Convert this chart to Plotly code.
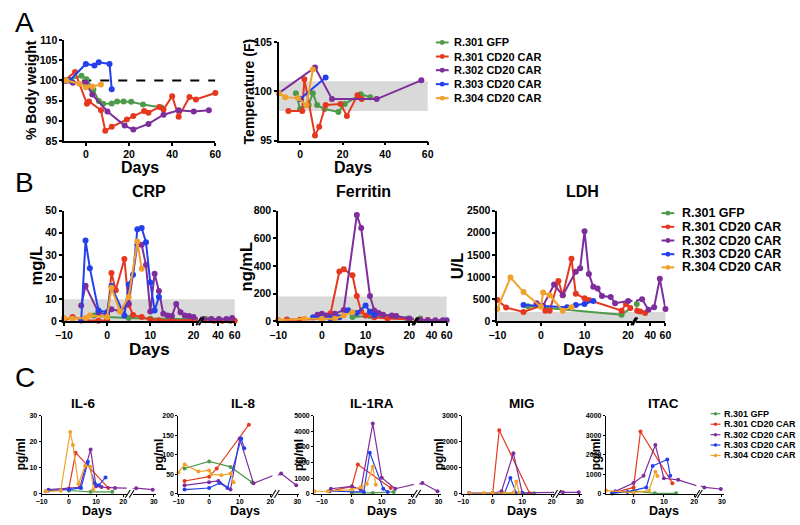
import plotly.graph_objects as go

W, H = 800, 525
FONT = "Liberation Sans, Arial, sans-serif"

GREEN, RED, PURPLE, BLUE, ORANGE = "#4e9a4b", "#e5381f", "#7e2d9c", "#2440ec", "#f0a12c"
series_names = ["R.301 GFP", "R.301 CD20 CAR", "R.302 CD20 CAR", "R.303 CD20 CAR", "R.304 CD20 CAR"]
series_colors = [GREEN, RED, PURPLE, BLUE, ORANGE]

# ---------------- Panel A : % body weight ----------------
bw_day_gfp = [-9, -7.5, -2, 0.3, 3.5, 6, 8, 12, 14.5, 17.5, 21, 26.5, 35]
bw_gfp = [100, 100.1, 101.2, 100.3, 97.7, 94.9, 94.2, 94.3, 94.8, 94.8, 94.7, 94.0, 93.3]
bw_day_r301 = [-10, -5, 0.5, 1.5, 7, 9, 12, 19, 22, 27, 29, 34, 36, 40, 43, 48, 51, 60]
bw_r301 = [100, 102.1, 94.2, 94.8, 92.6, 87.5, 88.5, 90.3, 91.2, 92.4, 92.0, 93.4, 92.8, 96.1, 91.0, 95.9, 95.3, 96.9]
bw_day_r302 = [-10, -6, 0, 3, 10, 18, 22, 29, 36, 43, 50, 57]
bw_r302 = [100, 99.4, 99.4, 96.5, 92.3, 88.8, 87.8, 89.2, 91.5, 92.6, 92.3, 92.6]
bw_day_r303 = [-9, -7.5, 0, 4, 6, 11, 12]
bw_r303 = [99.9, 100, 104.1, 103.7, 104.5, 104.1, 97.8]
bw_day_r304 = [-9, -3, 0, 3, 7]
bw_r304 = [100, 99.2, 98.3, 98.5, 99]

# ---------------- Panel A : temperature ----------------
t_day_gfp = [-2, 0, 4, 6, 8, 11.5, 18, 21, 28.5, 33]
t_gfp = [99.8, 98.2, 98.6, 99.8, 98.6, 98.2, 97.9, 98.7, 99.7, 99.4]
t_day_r301 = [-5.5, 1, 2, 7, 9, 12, 19, 22, 27, 29]
t_r301 = [98, 98, 101.2, 95.5, 96.4, 98.6, 98.7, 97.5, 99.6, 99.2]
t_day_r302 = [-10, 7, 15, 36, 57]
t_r302 = [99.8, 102.4, 99.2, 99.2, 101.1]
t_day_r303 = [0, 12]
t_r303 = [99.2, 101.4]
t_day_r304 = [-10, -7, -1, 3, 6]
t_r304 = [99.8, 99.4, 99.3, 98.6, 102.2]

# ---------------- Panel B : CRP ----------------
crp_day_gfp = [-3, 0, 5, 10, 15, 20, 25, 30]
crp_gfp = [2.6, 1.9, 1.5, 1.2, 1.0, 1.0, 1.0, 0.8]
crp_day_r301 = [-10, -8, -5, -2, 0, 1, 2, 4, 5, 6, 8, 10, 12, 15, 20, 25, 35, 45, 55, 60]
crp_r301 = [0.4, 1.9, 0.5, 0.3, 0.4, 21.8, 14, 28.1, 7.4, 2.9, 1.9, 0.8, 0.5, 0.5, 0.5, 0.5, 0.3, 0.3, 0.3, 0.3]
crp_day_r302 = [-6, -5, -2, 0, 1, 3, 5, 7, 8, 9, 10, 11, 12, 13, 14, 15, 16, 17, 18, 19, 20, 22, 32, 41, 50, 57]
crp_r302 = [7.1, 16, 4, 3, 5.5, 4.5, 8, 34.5, 34.5, 25.4, 4.4, 21.5, 13.7, 3.4, 2.6, 2.4, 7.8, 4.1, 2.6, 2.4, 1.9, 1, 1, 1, 1, 1.5]
crp_day_r303 = [-6, -5, -4, -2, 0, 1, 4, 5, 6, 7, 8, 9, 10, 11, 12]
crp_r303 = [0.4, 36.5, 24, 4.9, 4.1, 15.9, 2.6, 16.6, 21, 41.6, 42.1, 35.7, 17.5, 4.9, 11]
crp_day_r304 = [-10, -8, -5, -4, 0, 1, 3, 5, 7, 8]
crp_r304 = [1.5, 1.2, 1.5, 2.6, 1.9, 15.1, 4.4, 11, 36, 23.7]

# ---------------- Panel B : Ferritin ----------------
fer_day_gfp = [7, 11, 19.5, 25]
fer_gfp = [31, 38, 19, 20]
fer_day_r301 = [-10, -8, -5, 0, 2, 4, 5, 7, 8, 9, 10, 12, 15, 20, 25, 35]
fer_r301 = [7, 14, 12, 19, 59, 360, 376, 332, 183, 71, 42, 30, 20, 15, 10, 10]
fer_day_r302 = [-1, 0, 1, 3, 5, 8, 9, 11, 12, 13, 14, 16, 17, 20, 25, 35, 45, 55, 60]
fer_r302 = [47, 54, 42, 54, 82, 767, 673, 183, 78, 61, 47, 42, 38, 20, 10, 8, 8, 8, 8]
fer_day_r303 = [-2, 0, 2, 4, 6, 8, 10, 11, 12]
fer_r303 = [30, 25, 20, 30, 80, 60, 115, 70, 45]
fer_day_r304 = [-10, -4, 0, 3, 5, 7]
fer_r304 = [7, 19, 19, 19, 42, 66]

# ---------------- Panel B : LDH ----------------
ldh_day_gfp = [-3, 18.5, 22]
ldh_gfp = [340, 150, 390]
ldh_day_r301 = [-10, -8, -4, 0, 1, 2, 4, 5, 7, 8, 10, 11, 18.5, 19.5, 20.5, 22.5, 26.5, 33]
ldh_r301 = [480, 310, 210, 350, 240, 240, 910, 590, 1410, 620, 520, 480, 240, 390, 300, 240, 220, 190]
ldh_day_r302 = [-1, 0.5, 3, 5, 8, 9, 10, 11, 12, 13, 14, 16, 17, 20, 29, 37.5, 45, 52.5, 60]
ldh_r302 = [410, 350, 830, 590, 1120, 1200, 2030, 1070, 780, 740, 570, 550, 410, 460, 500, 260, 320, 960, 280]
ldh_day_r303 = [-4, 6, 8, 10, 12]
ldh_r303 = [370, 320, 370, 390, 460]
ldh_day_r304 = [-10, -7, -4, 0, 0.5, 2, 5, 7]
ldh_r304 = [280, 990, 660, 330, 650, 590, 240, 320]

# ---------------- Panel C : cytokines ----------------
il6_day_gfp = [0, 8, 16]
il6_gfp = [1.3, 0.8, 0.8]
il6_day_r301 = [-8.5, 0, 2.5, 14.5]
il6_r301 = [1, 2, 15.8, 2.3]
il6_day_r302 = [-7.5, 0, 4, 8, 10, 12, 17, 22.5, 29.5]
il6_r302 = [1.6, 2, 2.5, 17, 2.9, 2.6, 2.3, 2.2, 1.6]
il6_day_r303 = [-7.5, 0, 4.5, 7, 9.5, 11, 13.5]
il6_r303 = [1.3, 1.6, 2.3, 12.3, 4.1, 3.3, 6.3]
il6_day_r304 = [-8.5, -3, 0.5, 1.5, 3.5, 6, 8, 9]
il6_r304 = [1, 1.2, 23.8, 18.8, 3.8, 10.8, 10.4, 1.6]

il8_day_gfp = [-8, 0, 7, 14]
il8_gfp = [65, 83, 69, 30]
il8_day_r301 = [-8, 0, 2.5, 13]
il8_r301 = [33, 44, 65, 177]
il8_day_r302 = [-8, 0, 3, 7, 10, 14.5, 22.5, 29.5]
il8_r302 = [22, 30, 33, 11, 142, 27, 52, 22]
il8_day_r303 = [-8, 0, 3.5, 6, 10.5, 11.5]
il8_r303 = [11, 15, 28, 15, 142, 117]
il8_day_r304 = [-10, -8, -3.5, 0, 0.7, 4, 7, 8]
il8_r304 = [55, 75, 57, 60, 50, 48, 52, 30]

il1ra_day_gfp = [0, 7, 14]
il1ra_gfp = [60, 60, 125]
il1ra_day_r301 = [-7.5, 0, 2, 13]
il1ra_r301 = [170, 480, 1880, 370]
il1ra_day_r302 = [-7, 0, 3, 7, 10, 14.5, 22.5, 29.5]
il1ra_r302 = [330, 480, 270, 4500, 1040, 330, 690, 170]
il1ra_day_r303 = [-7.5, 0, 4, 6, 10.5, 12]
il1ra_r303 = [170, 170, 125, 2630, 330, 125]
il1ra_day_r304 = [-12.5, -8, 0, 3, 5, 7, 8]
il1ra_r304 = [170, 170, 270, 420, 625, 1730, 580]

mig_day_gfp = [0, 7, 14]
mig_gfp = [20, 20, 20]
mig_day_r301 = [-8, 0, 2.2, 12.5]
mig_r301 = [25, 25, 2440, 25]
mig_day_r302 = [-8, 0, 3, 7, 10, 22.5, 29.5]
mig_r302 = [20, 25, 100, 1560, 40, 60, 60]
mig_day_r303 = [-8, 0, 4, 6, 8, 10]
mig_r303 = [20, 20, 25, 610, 25, 25]
mig_day_r304 = [-8, -3, 0, 4, 7, 8, 9]
mig_r304 = [25, 30, 35, 30, 40, 475, 25]

itac_day_gfp = [-7, 0, 7, 14]
itac_gfp = [20, 150, 30, 30]
itac_day_r301 = [-7, 0, 2.3, 12.8]
itac_r301 = [30, 330, 3190, 550]
itac_day_r302 = [-6, 0, 3.3, 7.2, 10, 14.7, 22.5, 29.5]
itac_r302 = [130, 560, 930, 2500, 800, 720, 330, 250]
itac_day_r303 = [-7, -2, 4.2, 6.3, 11.1, 12.1]
itac_r303 = [50, 100, 330, 1430, 1760, 930]
itac_day_r304 = [-9, 0, 5.1, 7.2, 7.9]
itac_r304 = [170, 60, 165, 1130, 915]

# ---------------- helpers ----------------
fig = go.Figure()
layout = {}
_id = [0]


def fx(p):
    return p / W


def fy(p):
    return 1 - p / H


def new_id():
    _id[0] += 1
    return _id[0]


def axkey(kind, i):
    return f"{kind}axis" if i == 1 else f"{kind}axis{i}"


def ref(kind, i):
    return kind if i == 1 else f"{kind}{i}"


def axstyle(fs, lw, tl):
    return dict(showline=True, linecolor="black", linewidth=lw, ticks="outside", ticklen=tl,
                tickwidth=lw, tickcolor="black", showgrid=False, zeroline=False, fixedrange=True,
                tickfont=dict(family=FONT, size=fs, color="black", weight="bold"))


def make_panel(xd, yd, yr, ytv, xr, xtv, fs, lw, tl, xd2=None, xr2=None, xtv2=None, xstand=0):
    i = new_id()
    xa = axstyle(fs, lw, tl)
    xa.update(domain=[fx(xd[0]), fx(xd[1])], range=xr, tickvals=xtv, anchor=ref("y", i), ticklabelstandoff=xstand)
    ya = axstyle(fs, lw, tl)
    ya.update(domain=[fy(yd[1]), fy(yd[0])], range=yr, tickvals=ytv, anchor=ref("x", i))
    layout[axkey("x", i)] = xa
    layout[axkey("y", i)] = ya
    P = dict(x=ref("x", i), y=ref("y", i), x2=None, brk=None, xd=xd, yd=yd, xd2=xd2)
    if xd2 is not None:
        j = new_id()
        xb = axstyle(fs, lw, tl)
        xb.update(domain=[fx(xd2[0]), fx(xd2[1])], range=xr2, tickvals=xtv2, anchor=ref("y", i),
                  ticklabelstandoff=xstand)
        layout[axkey("x", j)] = xb
        P["x2"] = ref("x", j)
        P["brk"] = xr[1]
        for xp in (xd[1] + 1, xd2[0] - 1):
            fig.add_shape(type="line", xref="paper", yref="paper", x0=fx(xp - 2.5), x1=fx(xp + 2.5),
                          y0=fy(yd[1] + 4), y1=fy(yd[1] - 4), line=dict(color="black", width=lw))
    return P


def add_series(P, xs, ys, color, ms, lw):
    common = dict(mode="lines+markers", line=dict(color=color, width=lw),
                  marker=dict(color=color, size=ms), showlegend=False, hoverinfo="skip")
    if P["x2"] is None:
        fig.add_trace(go.Scatter(x=xs, y=ys, xaxis=P["x"], yaxis=P["y"], cliponaxis=False, **common))
        return
    brk = P["brk"]
    i1 = [k for k, v in enumerate(xs) if v <= brk]
    i2 = [k for k, v in enumerate(xs) if v > brk]
    if i1:
        fig.add_trace(go.Scatter(x=[xs[k] for k in i1], y=[ys[k] for k in i1], xaxis=P["x"], yaxis=P["y"],
                                 cliponaxis=False, **common))
    if i2:
        fig.add_trace(go.Scatter(x=[xs[k] for k in i2], y=[ys[k] for k in i2], xaxis=P["x2"], yaxis=P["y"],
                                 cliponaxis=False, **common))
    if i1 and i2:
        a, b = i1[-1], i2[0]
        for xa in (P["x"], P["x2"]):
            fig.add_trace(go.Scatter(x=[xs[a], xs[b]], y=[ys[a], ys[b]], xaxis=xa, yaxis=P["y"], mode="lines",
                                     line=dict(color=color, width=lw), cliponaxis=True, showlegend=False,
                                     hoverinfo="skip"))


def band(P, y0, y1):
    x1 = P["xd2"][1] if P["xd2"] else P["xd"][1]
    fig.add_shape(type="rect", xref="paper", yref=P["y"], x0=fx(P["xd"][0]), x1=fx(x1), y0=y0, y1=y1,
                  fillcolor="#d9d9d9", line=dict(width=0), layer="below")


def label(x, y, text, size, angle=0, bold=True, anchor="center", yanchor="middle"):
    fig.add_annotation(x=fx(x), y=fy(y), xref="paper", yref="paper", text=text, showarrow=False,
                       xanchor=anchor, yanchor=yanchor, textangle=angle, borderpad=0,
                       font=dict(family=FONT, size=size, color="black", weight="bold" if bold else "normal"))


def legend(xl0, xl1, xt, ys, fs, lw, ms):
    for name, col, y in zip(series_names, series_colors, ys):
        fig.add_shape(type="line", xref="paper", yref="paper", x0=fx(xl0), x1=fx(xl1), y0=fy(y), y1=fy(y),
                      line=dict(color=col, width=lw))
        xc, r = (xl0 + xl1) / 2, ms / 2
        fig.add_shape(type="circle", xref="paper", yref="paper", x0=fx(xc - r), x1=fx(xc + r),
                      y0=fy(y + r), y1=fy(y - r), fillcolor=col, line=dict(width=0))
        label(xt, y, name, fs, anchor="left")


def draw(P, sets, ms, lw):
    for (xs, ys), col in zip(sets, series_colors):
        add_series(P, xs, ys, col, ms, lw)


# ---------------- Panel A ----------------
LA, FA = 1.8, 10.5
pA1 = make_panel((56.3, 210.3), (35, 138), [85, 110], [85, 90, 95, 100, 105, 110], [-10, 60], [0, 20, 40, 60],
                 FA, LA, 3)
fig.add_shape(type="line", xref="x", yref="y", x0=-10, x1=60, y0=100, y1=100,
              line=dict(color="black", width=2, dash="dash"), layer="below")
draw(pA1, [(bw_day_gfp, bw_gfp), (bw_day_r301, bw_r301), (bw_day_r302, bw_r302),
           (bw_day_r303, bw_r303), (bw_day_r304, bw_r304)], 6, 2)

pA2 = make_panel((275, 426.7), (36.7, 137.7), [95, 105], [95, 100, 105], [-10, 60], [0, 20, 40, 60], FA, LA, 3)
band(pA2, 98, 101)
draw(pA2, [(t_day_gfp, t_gfp), (t_day_r301, t_r301), (t_day_r302, t_r302),
           (t_day_r303, t_r303), (t_day_r304, t_r304)], 6, 2)

label(16, 17, "A", 28, bold=False)
label(22, 86.5, "% Body weight", 14, angle=-90)
label(133, 165, "Days", 16)
label(245, 87, "Temperature (F)", 14, angle=-90)
label(351, 165, "Days", 16)
legend(435, 448, 452, [37.3, 51.7, 65.7, 80, 94.3], 11, 2, 5)

# ---------------- Panel B ----------------
yB = (209.3, 322.7)
pB1 = make_panel((56, 192.4), yB, [0, 50], [0, 10, 20, 30, 40, 50], [-10, 21], [-10, 0, 10, 20], FA, LA, 3,
                 (197, 230), [21, 60], [40, 60])
band(pB1, 0, 10)
draw(pB1, [(crp_day_gfp, crp_gfp), (crp_day_r301, crp_r301), (crp_day_r302, crp_r302),
           (crp_day_r303, crp_r303), (crp_day_r304, crp_r304)], 6, 2)

pB2 = make_panel((274.3, 412.4), yB, [0, 800], [0, 200, 400, 600, 800], [-10, 21], [-10, 0, 10, 20], FA, LA, 3,
                 (416, 446), [21, 60], [40, 60])
band(pB2, 0, 180)
draw(pB2, [(fer_day_gfp, fer_gfp), (fer_day_r301, fer_r301), (fer_day_r302, fer_r302),
           (fer_day_r303, fer_r303), (fer_day_r304, fer_r304)], 6, 2)

pB3 = make_panel((497.7, 635.4), yB, [0, 2500], [0, 500, 1000, 1500, 2000, 2500], [-10, 21], [-10, 0, 10, 20],
                 FA, LA, 3, (639, 669), [21, 60], [40, 60])
band(pB3, 0, 210)
draw(pB3, [(ldh_day_gfp, ldh_gfp), (ldh_day_r301, ldh_r301), (ldh_day_r302, ldh_r302),
           (ldh_day_r303, ldh_r303), (ldh_day_r304, ldh_r304)], 6, 2)

label(16, 181, "B", 28, bold=False)
label(143, 190, "CRP", 16)
label(361, 190, "Ferritin", 16)
label(584, 190, "LDH", 16)
label(27, 266, "mg/L", 16.5, angle=-90)
label(241, 266, "ng/mL", 16.5, angle=-90)
label(456, 266, "U/L", 16.5, angle=-90)
label(143, 352, "Days", 17)
label(362, 352, "Days", 17)
label(585, 352, "Days", 17)
legend(665, 678, 685, [212, 226, 240, 254, 267.5], 12.5, 2, 5)

# ---------------- Panel C ----------------
yC = (419.3, 499.3)
FC, LC = 7, 1.1
cyto = [
    ((33.3, 120), [-10, 21.3], (126, 150), [0, 30], [0, 10, 20, 30],
     [(il6_day_gfp, il6_gfp), (il6_day_r301, il6_r301), (il6_day_r302, il6_r302),
      (il6_day_r303, il6_r303), (il6_day_r304, il6_r304)]),
    ((172.7, 268.5), [-10, 20.7], (274, 296), [0, 200], [0, 50, 100, 150, 200],
     [(il8_day_gfp, il8_gfp), (il8_day_r301, il8_r301), (il8_day_r302, il8_r302),
      (il8_day_r303, il8_r303), (il8_day_r304, il8_r304)]),
    ((311, 412.5), [-12.6, 20.7], (418, 440), [0, 5000], [0, 1000, 2000, 3000, 4000, 5000],
     [(il1ra_day_gfp, il1ra_gfp), (il1ra_day_r301, il1ra_r301), (il1ra_day_r302, il1ra_r302),
      (il1ra_day_r303, il1ra_r303), (il1ra_day_r304, il1ra_r304)]),
    ((461.7, 555.5), [-10.4, 20.8], (561, 584), [0, 3000], [0, 1000, 2000, 3000],
     [(mig_day_gfp, mig_gfp), (mig_day_r301, mig_r301), (mig_day_r302, mig_r302),
      (mig_day_r303, mig_r303), (mig_day_r304, mig_r304)]),
    ((608.3, 700.5), [-9.1, 20.7], (705, 729), [0, 4000], [0, 1000, 2000, 3000, 4000],
     [(itac_day_gfp, itac_gfp), (itac_day_r301, itac_r301), (itac_day_r302, itac_r302),
      (itac_day_r303, itac_r303), (itac_day_r304, itac_r304)]),
]
for xd, xr, xd2, yr, ytv, sets in cyto:
    P = make_panel(xd, yC, yr, ytv, xr, [-10, 0, 10, 20], FC, LC, 2, xd2, [21, 31], [30], xstand=-1)
    draw(P, sets, 4, 1.2)

label(16, 380, "C", 28, bold=False)
for x, t in [(75, "IL-6"), (238, "IL-8"), (370, "IL-1RA"), (523, "MIG"), (667, "ITAC")]:
    label(x, 407, t, 13.5)
for x in (12, 152, 295, 438, 598):
    label(x, 459, "pg/ml", 12, angle=-90)
for x in (90, 240, 380, 523, 668):
    label(x, 525, "Days", 12.5, yanchor="bottom")
legend(715, 725, 728, [417.3, 428, 438.7, 449.3, 460], 9, 1.2, 3.5)

layout.update(width=W, height=H, autosize=False, margin=dict(l=0, r=0, t=0, b=0, pad=0), paper_bgcolor="white",
              plot_bgcolor="rgba(0,0,0,0)", showlegend=False, font=dict(family=FONT, color="black"))
fig.update_layout(**layout)
fig.write_html("out.html", config={"displayModeBar": False},
               post_script="document.body.style.margin='0px';document.body.style.overflow='hidden';")
